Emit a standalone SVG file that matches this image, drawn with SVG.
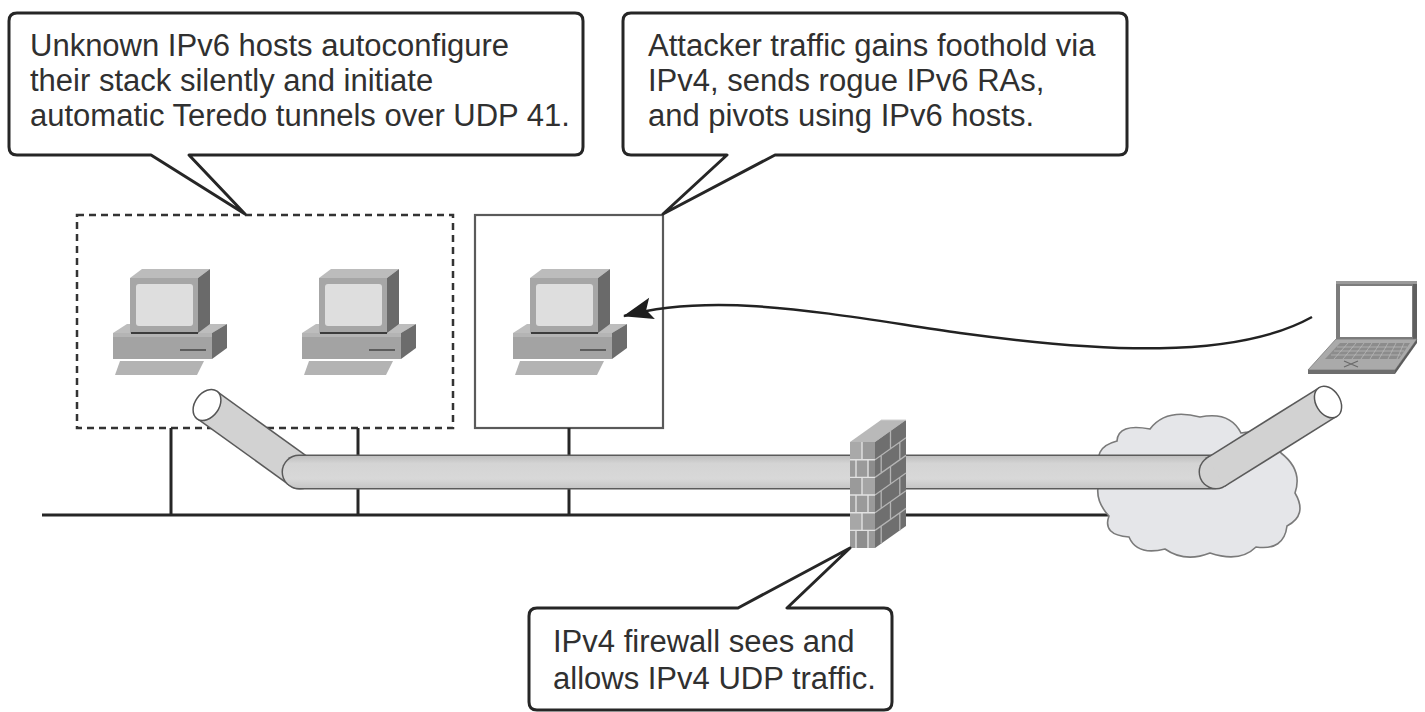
<svg xmlns="http://www.w3.org/2000/svg" xmlns:xlink="http://www.w3.org/1999/xlink" width="1425" height="712" viewBox="0 0 1425 712">
  <style>
    .callout { fill: #ffffff; stroke: #262626; stroke-width: 3; stroke-linejoin: round; }
    .label { font-family: "Liberation Sans", Arial, sans-serif; font-size: 31px; fill: #303030; }
    .wire { stroke: #262626; stroke-width: 3; fill: none; }
    .pipe-edge { stroke: #5a5a5a; fill: none; }
    .pipe-body { stroke: #d2d2d2; fill: none; }
    .mortar { stroke: #e2e2e2; stroke-width: 1.4; fill: none; }
    .mortar-side { stroke: #b4b4b4; stroke-width: 1.3; fill: none; }
    .kb { stroke: #bdbdbd; stroke-width: 0.7; fill: none; }
  </style>
  <defs>
    <linearGradient id="pipeShade" gradientUnits="userSpaceOnUse" x1="0" y1="455" x2="0" y2="489">
      <stop offset="0" stop-color="#bcbcbc"/>
      <stop offset="0.25" stop-color="#d4d4d4"/>
      <stop offset="0.7" stop-color="#d8d8d8"/>
      <stop offset="1" stop-color="#c4c4c4"/>
    </linearGradient>
    <marker id="arrowHead" markerUnits="userSpaceOnUse" viewBox="0 0 32 24" markerWidth="32" markerHeight="24" refX="30" refY="12" orient="auto">
      <path d="M31,12 L1,1 L7,12 L1,23 Z" fill="#1e1e1e"/>
    </marker>
    <!-- desktop PC icon, origin at the top-left of the monitor front -->
    <g id="pc">
      <!-- base -->
      <polygon points="-17,55 -3,46 97,46 82,55" fill="#bdbdbd"/>
      <rect x="-17" y="55" width="99" height="26" fill="#a3a3a3"/>
      <rect x="-17" y="55" width="99" height="4" fill="#b4b4b4"/>
      <polygon points="82,55 97,46 97,70 82,81" fill="#6c6c6c"/>
      <line x1="50" y1="72" x2="76" y2="72" stroke="#5c5c5c" stroke-width="2"/>
      <!-- keyboard -->
      <polygon points="-10,83 74,83 67,97 -15,97" fill="#b3b3b3"/>
      <!-- monitor -->
      <polygon points="0,0 12,-9 80,-9 68,0" fill="#bcbcbc"/>
      <polygon points="68,0 80,-9 80,46 68,55" fill="#6a6a6a"/>
      <rect x="0" y="0" width="68" height="55" fill="#a6a6a6"/>
      <rect x="6" y="6" width="57" height="42" rx="3" fill="#dedede"/>
      <line x1="1" y1="55" x2="68" y2="55" stroke="#3c3c3c" stroke-width="2"/>
    </g>
  </defs>

  <rect width="1425" height="712" fill="#ffffff"/>

  <!-- host enclosures -->
  <g id="ipv6-hosts-zone">
    <rect x="77" y="215" width="376" height="213" fill="none" stroke="#333333" stroke-width="2.5" stroke-dasharray="7 5"/>
  </g>
  <g id="pivot-host-zone">
    <rect x="475" y="215" width="188" height="213" fill="none" stroke="#5a5a5a" stroke-width="2.2"/>
  </g>

  <!-- LAN segment -->
  <g id="connectors">
    <line class="wire" x1="42" y1="515" x2="1115" y2="515"/>
    <line class="wire" x1="171" y1="428" x2="171" y2="515"/>
    <line class="wire" x1="358" y1="428" x2="358" y2="515"/>
    <line class="wire" x1="569" y1="428" x2="569" y2="515"/>
    <!-- attacker path -->
    <path d="M1312,317 C1235,360 1100,352 960,333 C840,316 720,290 624,316" fill="none" stroke="#222222" stroke-width="2.5" marker-end="url(#arrowHead)"/>
  </g>

  <!-- internet cloud -->
  <g id="internet">
    <path d="M1103,472 Q1090,448 1117,441 Q1118,423 1150,429 Q1166,408 1200,417 Q1230,411 1241,433 Q1270,428 1281,453 Q1303,470 1295,493 Q1308,515 1287,526 Q1284,551 1256,547 Q1240,563 1210,553 Q1185,563 1165,549 Q1137,556 1129,537 Q1102,535 1109,516 Q1090,496 1103,472 Z" fill="#e5e6e9" stroke="#7a7a7a" stroke-width="1.6"/>
  </g>

  <!-- Teredo tunnel -->
  <g id="tunnel">
    <!-- left leg -->
    <circle cx="300" cy="472" r="17.5" fill="#5a5a5a"/>
    <line class="pipe-edge" x1="300" y1="472" x2="207" y2="405" stroke-width="35"/>
    <circle cx="300" cy="472" r="16" fill="#d2d2d2"/>
    <line class="pipe-body" x1="300" y1="472" x2="207" y2="405" stroke-width="32"/>
    <ellipse cx="207" cy="405" rx="12" ry="17" transform="rotate(35.8 207 405)" fill="#ffffff" stroke="#555555" stroke-width="1.5"/>
    <!-- trunk -->
    <path d="M299,472 H1212" stroke="#5a5a5a" stroke-width="35" stroke-linecap="round" fill="none"/>
    <path d="M299,472 H1212" stroke="url(#pipeShade)" stroke-width="32" stroke-linecap="round" fill="none"/>
    <!-- right leg -->
    <circle cx="1216" cy="472" r="17.5" fill="#5a5a5a"/>
    <line class="pipe-edge" x1="1216" y1="472" x2="1328" y2="402" stroke-width="35"/>
    <circle cx="1216" cy="472" r="16" fill="#d2d2d2"/>
    <line class="pipe-body" x1="1216" y1="472" x2="1328" y2="402" stroke-width="32"/>
    <ellipse cx="1328" cy="402" rx="12" ry="17" transform="rotate(-32 1328 402)" fill="#ffffff" stroke="#555555" stroke-width="1.5"/>
  </g>

  <!-- IPv4 firewall -->
  <g id="firewall">
    <polygon points="850,442 881,420 906,420 875,442" fill="#b9b9b9"/>
    <polygon points="875,442 906,420 906,526 875,548" fill="#6f6f6f"/>
    <rect x="850" y="442" width="25" height="106" fill="#9a9a9a"/>
    <rect x="850" y="442" width="12" height="17.7" fill="#a9a9a9"/>
    <rect x="862" y="477.4" width="13" height="17.7" fill="#a5a5a5"/>
    <rect x="850" y="512.7" width="12" height="17.7" fill="#a7a7a7"/>
    <rect x="868" y="459.7" width="7" height="17.7" fill="#8c8c8c"/>
    <rect x="856" y="530.4" width="12" height="17.6" fill="#8e8e8e"/>
    <!-- front mortar -->
    <path class="mortar" d="M850,459.7 H875 M850,477.4 H875 M850,495 H875 M850,512.7 H875 M850,530.4 H875
      M862,442 V459.7 M856,459.7 V477.4 M868,459.7 V477.4 M862,477.4 V495 M856,495 V512.7 M868,495 V512.7
      M862,512.7 V530.4 M856,530.4 V548 M868,530.4 V548"/>
    <!-- side mortar -->
    <path class="mortar-side" d="M875,459.7 L906,437.7 M875,477.4 L906,455.4 M875,495 L906,473 M875,512.7 L906,490.7 M875,530.4 L906,508.4
      M890.5,431 V448.7 M881.2,455.3 V473 M899.8,442.3 V460 M890.5,466.4 V484.1 M881.2,490.6 V508.3 M899.8,477.6 V495.3
      M890.5,501.7 V519.4 M881.2,525.9 V543.6 M899.8,512.9 V530.6"/>
    <path d="M881,420 L906,420" stroke="#d0d0d0" stroke-width="1" fill="none"/>
  </g>

  <!-- hosts -->
  <g id="host-1"><use xlink:href="#pc" href="#pc" x="130" y="278"/></g>
  <g id="host-2"><use xlink:href="#pc" href="#pc" x="319" y="278"/></g>
  <g id="host-3"><use xlink:href="#pc" href="#pc" x="530" y="278"/></g>

  <!-- attacker laptop -->
  <g id="attacker-laptop">
    <rect x="1336" y="281" width="81" height="58" fill="#7c7c7c"/>
    <rect x="1336" y="281" width="81" height="3" fill="#9a9a9a"/>
    <rect x="1413" y="284" width="4" height="55" fill="#5f5f5f"/>
    <rect x="1340" y="286" width="72" height="51" fill="#ffffff"/>
    <polygon points="1336,339 1417,339 1395,370 1308,370" fill="#aaaaaa" stroke="#7a7a7a" stroke-width="0.8"/>
    <polygon points="1340,343 1410,343 1399,359 1325,359" fill="#8c8c8c"/>
    <path class="kb" d="M1337,347 H1407 M1334,351 H1404 M1331,355 H1401
      M1348,343 L1334,359 M1356,343 L1343,359 M1364,343 L1352,359 M1372,343 L1361,359 M1380,343 L1370,359 M1388,343 L1379,359 M1396,343 L1388,359 M1404,343 L1397,359"/>
    <path d="M1344,361 L1358,367 M1358,361 L1344,367" stroke="#6a6a6a" stroke-width="1.2" fill="none"/>
    <polygon points="1308,370 1395,370 1395,374 1308,374" fill="#6e6e6e"/>
    <polygon points="1395,370 1417,339 1417,343 1395,374" fill="#5c5c5c"/>
  </g>

  <!-- callouts -->
  <g id="callout-ipv6-hosts">
    <path class="callout" d="M17,13 H575 Q583,13 583,21 V147 Q583,155 575,155 H189 L245,214 L151,155 H17 Q9,155 9,147 V21 Q9,13 17,13 Z"/>
    <text class="label" x="30" y="56">Unknown IPv6 hosts autoconfigure</text>
    <text class="label" x="30" y="91">their stack silently and initiate</text>
    <text class="label" x="30" y="126">automatic Teredo tunnels over UDP 41.</text>
  </g>
  <g id="callout-attacker">
    <path class="callout" d="M631,13 H1119 Q1127,13 1127,21 V147 Q1127,155 1119,155 H775 L663,214 L727,155 H631 Q623,155 623,147 V21 Q623,13 631,13 Z"/>
    <text class="label" x="648" y="56">Attacker traffic gains foothold via</text>
    <text class="label" x="648" y="91">IPv4, sends rogue IPv6 RAs,</text>
    <text class="label" x="648" y="126">and pivots using IPv6 hosts.</text>
  </g>
  <g id="callout-firewall">
    <path class="callout" d="M537,608 H738 L850,548 L787,608 H884 Q892,608 892,616 V702 Q892,710 884,710 H537 Q529,710 529,702 V616 Q529,608 537,608 Z"/>
    <text class="label" x="553" y="652">IPv4 firewall sees and</text>
    <text class="label" x="553" y="689">allows IPv4 UDP traffic.</text>
  </g>
</svg>
